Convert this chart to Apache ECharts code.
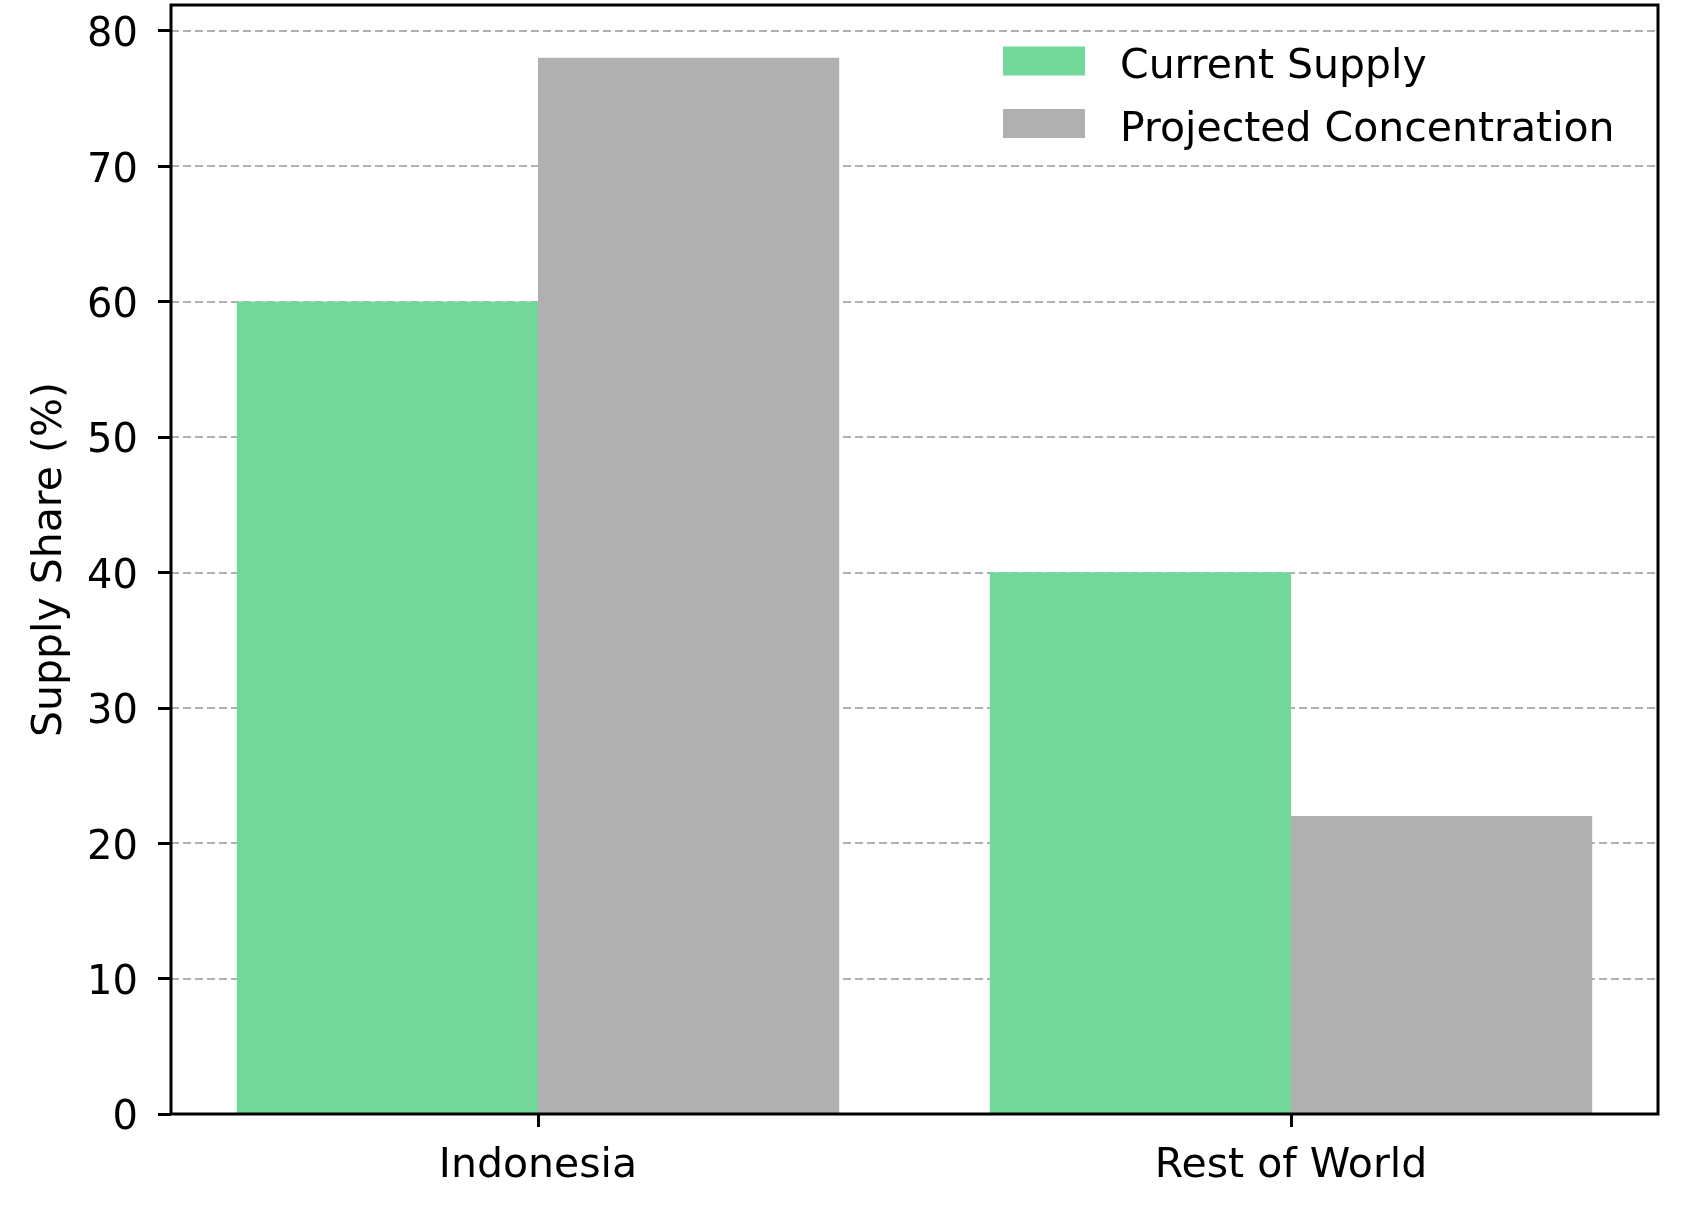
<!DOCTYPE html>
<html>
<head>
<meta charset="utf-8">
<script src="https://cdn.jsdelivr.net/npm/echarts@6/dist/echarts.min.js"></script>
<style>
  html, body { margin: 0; padding: 0; background: #fff; }
  #chart { width: 1688px; height: 1215px; }
</style>
</head>
<body>
<div id="chart"></div>
<script>
  // data
  const categories = ['Indonesia', 'Rest of World'];
  const currentSupply = [60, 40];
  const projectedConcentration = [78, 22];

  const font = 'DejaVu Sans';
  let chart = echarts.init(document.getElementById('chart'));

  // plot box: 171..1658 x 5..1114, y range 0..81.9
  const pxPerUnit = 1109 / 81.9;
  const top80 = 1114 - 80 * pxPerUnit;
  const labelShift = 5; // matplotlib centres digits a little lower

  let option = {
    backgroundColor: '#ffffff',
    animation: false,
    textStyle: { fontFamily: font },
    grid: [
      // frame
      { left: 171, right: 30, top: 5, bottom: 101, show: true, borderColor: '#000', borderWidth: 3, backgroundColor: 'transparent', z: 5 },
      // bars (category centres like matplotlib, a bit wider than the frame)
      { left: 161.5, right: 20.5, top: 5, bottom: 101 },
      // y ticks + grid 0..80
      { left: 171, right: 30, top: top80, bottom: 101 },
      // y tick labels
      { left: 171, right: 30, top: top80 + labelShift, bottom: 101 - labelShift }
    ],
    legend: {
      orient: 'vertical',
      left: 1003,
      top: 46.5,
      padding: 0,
      itemWidth: 82,
      itemHeight: 29,
      itemGap: 21,
      icon: 'rect',
      formatter: name => '{t|' + name + '}',
      textStyle: {
        fontFamily: font,
        fontSize: 41,
        color: '#000',
        padding: [0, 0, 0, 30],
        rich: {
          t: { fontFamily: font, fontSize: 41, color: '#000', lineHeight: 54, verticalAlign: 'bottom' }
        }
      },
      data: ['Current Supply', 'Projected Concentration']
    },
    xAxis: [
      { type: 'category', gridIndex: 0, data: categories, show: false },
      {
        type: 'category',
        gridIndex: 1,
        data: categories,
        axisLine: { show: false },
        axisTick: { show: true, alignWithLabel: true, length: 13, lineStyle: { color: '#000', width: 3 } },
        axisLabel: { margin: 32, fontSize: 41, color: '#000', fontFamily: font },
        splitLine: { show: false }
      },
      { type: 'category', gridIndex: 2, data: categories, show: false },
      { type: 'category', gridIndex: 3, data: categories, show: false }
    ],
    yAxis: [
      {
        type: 'value',
        gridIndex: 0,
        min: 0,
        max: 81.9,
        name: 'Supply Share (%)',
        nameLocation: 'middle',
        nameGap: 100,
        nameTextStyle: { fontSize: 41, color: '#000', fontFamily: font },
        axisLine: { show: false },
        axisTick: { show: false },
        axisLabel: { show: false },
        splitLine: { show: false }
      },
      { type: 'value', gridIndex: 1, min: 0, max: 81.9, show: false },
      {
        type: 'value',
        gridIndex: 2,
        min: 0,
        max: 80,
        interval: 10,
        axisLine: { show: false },
        axisTick: { show: true, length: 13, lineStyle: { color: '#000', width: 3 } },
        axisLabel: { show: false },
        splitLine: {
          show: true,
          lineStyle: { color: '#b0b0b0', width: 2, type: [8, 4] }
        }
      },
      {
        type: 'value',
        gridIndex: 3,
        min: 0,
        max: 80,
        interval: 10,
        axisLine: { show: false },
        axisTick: { show: false },
        axisLabel: { margin: 33, fontSize: 40, color: '#000', fontFamily: font },
        splitLine: { show: false }
      }
    ],
    series: [
      {
        name: 'Current Supply',
        type: 'bar',
        xAxisIndex: 1,
        yAxisIndex: 1,
        data: currentSupply,
        barWidth: '40%',
        barGap: '0%',
        itemStyle: { color: '#71d899' }
      },
      {
        name: 'Projected Concentration',
        type: 'bar',
        xAxisIndex: 1,
        yAxisIndex: 1,
        data: projectedConcentration,
        barWidth: '40%',
        barGap: '0%',
        itemStyle: { color: '#b0b0b0' }
      }
    ]
  };
  chart.setOption(option);
</script>
</body>
</html>
